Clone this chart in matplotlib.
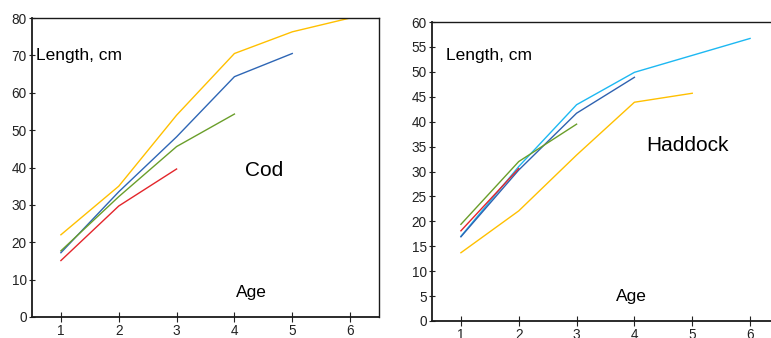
import matplotlib
matplotlib.use("Agg")
import matplotlib.pyplot as plt

plt.rcParams['font.family'] = ['Liberation Sans', 'DejaVu Sans']

# Cod data
cod_yellow_age = [1, 2, 3, 4, 5, 6]
cod_yellow = [22.0, 35.0, 54.0, 70.5, 76.3, 80.0]
cod_blue_age = [1, 2, 3, 4, 5]
cod_blue = [17.2, 33.5, 48.2, 64.3, 70.5]
cod_green_age = [1, 2, 3, 4]
cod_green = [17.7, 32.2, 45.6, 54.3]
cod_red_age = [1, 2, 3]
cod_red = [15.1, 29.7, 39.6]

# Haddock data
had_cyan_age = [1, 2, 3, 4, 5, 6]
had_cyan = [17.0, 31.0, 43.4, 49.9, 53.3, 56.7]
had_blue_age = [1, 2, 3, 4]
had_blue = [16.9, 30.3, 41.7, 48.9]
had_red_age = [1, 2]
had_red = [18.1, 30.6]
had_green_age = [1, 2, 3]
had_green = [19.4, 32.0, 39.5]
had_yellow_age = [1, 2, 3, 4, 5]
had_yellow = [13.7, 22.1, 33.3, 43.9, 45.7]

cod_yticks = [0, 10, 20, 30, 40, 50, 60, 70, 80]
had_yticks = [0, 5, 10, 15, 20, 25, 30, 35, 40, 45, 50, 55, 60]
xticks = [1, 2, 3, 4, 5, 6]

YEL = '#FFC000'
BLU = '#2E66B5'
GRN = '#6A9E2A'
RED = '#E3262B'
CYN = '#1DB8F2'
HBLU = '#2F62B0'

W, H = 771, 338
fig = plt.figure(figsize=(W / 100, H / 100), dpi=100)

ax1 = fig.add_axes([32 / W, 21 / H, 347 / W, 299 / H])
ax2 = fig.add_axes([432 / W, 17 / H, 347 / W, 299 / H])

lw = 1.0
ax1.plot(cod_yellow_age, cod_yellow, color=YEL, lw=lw)
ax1.plot(cod_blue_age, cod_blue, color=BLU, lw=lw)
ax1.plot(cod_green_age, cod_green, color=GRN, lw=lw)
ax1.plot(cod_red_age, cod_red, color=RED, lw=lw)

ax2.plot(had_cyan_age, had_cyan, color=CYN, lw=lw)
ax2.plot(had_blue_age, had_blue, color=HBLU, lw=lw)
ax2.plot(had_red_age, had_red, color=RED, lw=lw)
ax2.plot(had_green_age, had_green, color=GRN, lw=lw)
ax2.plot(had_yellow_age, had_yellow, color=YEL, lw=lw)

for ax, yt, ymax in ((ax1, cod_yticks, 80), (ax2, had_yticks, 60)):
    ax.set_xlim(0.5, 6.5)
    ax.set_ylim(0, ymax)
    ax.set_xticks(xticks)
    ax.set_yticks(yt)
    ax.tick_params(axis='x', direction='inout', length=6.5, width=0.8,
                   labelsize=9.8, pad=1.5, colors='#222222')
    ax.tick_params(axis='y', direction='inout', length=4.5, width=0.8,
                   labelsize=9.8, pad=1.5, colors='#222222')
    for s in ax.spines.values():
        s.set_linewidth(1.0)
        s.set_color('#1a1a1a')
    ax.spines['left'].set_linewidth(1.3)
    ax.spines['bottom'].set_linewidth(1.3)

# Text annotations (in axes data coordinates)
ax1.text(0.57, 70, 'Length, cm', fontsize=12.5, ha='left', va='center')
ax1.text(4.51, 39.2, 'Cod', fontsize=15, ha='center', va='center')
ax1.text(4.29, 6.5, 'Age', fontsize=12.5, ha='center', va='center')

ax2.text(0.74, 53.2, 'Length, cm', fontsize=12.5, ha='left', va='center')
ax2.text(4.91, 35.3, 'Haddock', fontsize=15, ha='center', va='center')
ax2.text(3.95, 4.9, 'Age', fontsize=12.5, ha='center', va='center')

fig.savefig('out.png', dpi=100)
